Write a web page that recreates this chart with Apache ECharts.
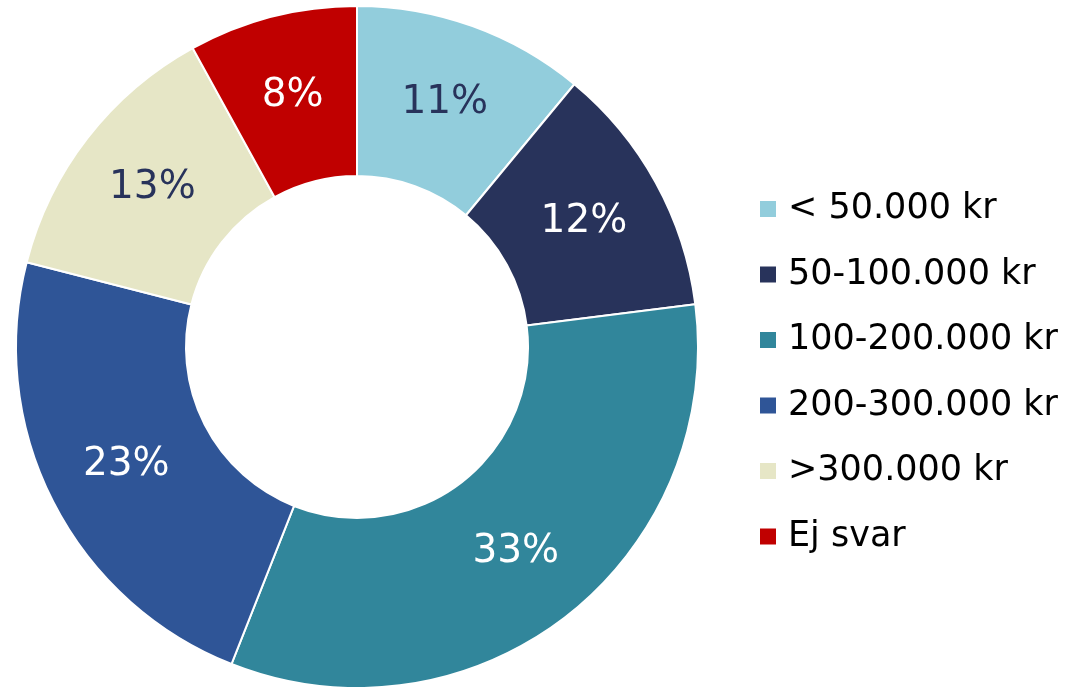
<!DOCTYPE html>
<html><head><meta charset="utf-8">
<script src="https://cdn.jsdelivr.net/npm/echarts@6/dist/echarts.min.js"></script>
<style>html,body{margin:0;padding:0;background:#fff}#c{width:1077px;height:687px}</style>
</head><body><div id="c"></div>
<script>
const categories = ['< 50.000 kr', '50-100.000 kr', '100-200.000 kr', '200-300.000 kr', '>300.000 kr', 'Ej svar'];
const values = [11, 12, 33, 23, 13, 8];
const colors = ['#92CDDC', '#28335B', '#31869B', '#2F5597', '#E6E6C6', '#C00000'];
const labelColors = ['#28335B', '#ffffff', '#ffffff', '#ffffff', '#28335B', '#ffffff'];

const chart = echarts.init(document.getElementById('c'));
chart.setOption({
  animation: false,
  legend: {
    orient: 'vertical', left: 758, top: 189, padding: 0,
    itemWidth: 18, itemHeight: 18, itemGap: 25.5,
    icon: 'rect',
    textStyle: { fontFamily: 'DejaVu Sans', fontSize: 35, color: '#000', lineHeight: 40, padding: [0,0,0,6] },
    data: categories
  },
  series: [{
    type: 'pie',
    center: [357, 347],
    radius: [171, 341],
    startAngle: 90,
    clockwise: true,
    itemStyle: { borderColor: '#fff', borderWidth: 2 },
    label: {
      position: 'inside',
      formatter: '{c}%',
      fontFamily: 'DejaVu Sans', fontSize: 39
    },
    labelLine: { show: false },
    data: categories.map((n, i) => ({
      name: n, value: values[i],
      itemStyle: { color: colors[i] },
      label: { color: labelColors[i] }
    }))
  }]
});
</script></body></html>
